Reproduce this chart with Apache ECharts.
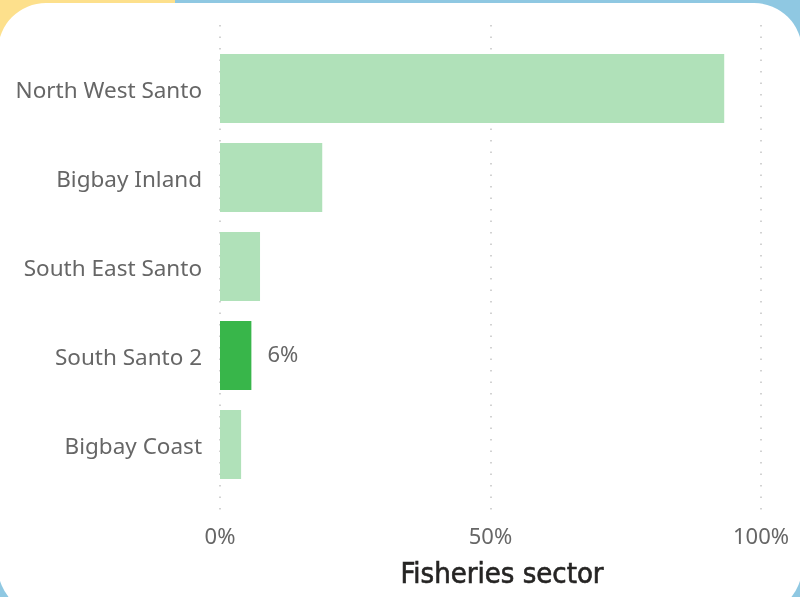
<!DOCTYPE html>
<html>
<head>
<meta charset="utf-8">
<script src="https://cdn.jsdelivr.net/npm/echarts@6/dist/echarts.min.js"></script>
<style>
    html, body { margin: 0; padding: 0; }
    body {
        width: 800px; height: 597px; overflow: hidden; position: relative;
        background: #8fc8e2;
    }
    .corner {
        position: absolute; left: 0; top: 0; width: 175px; height: 60px;
        background: #fde08c;
    }
    .card {
        position: absolute; left: -2px; top: 3px; width: 804px; height: 612px;
        background: #fff; border-radius: 48px;
    }
    #chart { position: absolute; left: 0; top: 0; width: 800px; height: 597px; }
</style>
</head>
<body>
<div class="corner"></div>
<div class="card"></div>
<div id="chart"></div>
<script>
    // 数据
    const categories = ['North West Santo', 'Bigbay Inland', 'South East Santo', 'South Santo 2', 'Bigbay Coast'];
    const shares = [93.2, 18.9, 7.4, 5.8, 3.9];
    const highlightName = 'South Santo 2';
    const xTicks = [0, 50, 100];

    const lightGreen = '#b0e1b9';
    const darkGreen = '#38b64a';
    const labelFont = 'Noto Sans';

    const chart = echarts.init(document.getElementById('chart'));

    // 柱状图数据
    const barData = shares.map((v, i) => {
        const hot = categories[i] === highlightName;
        return {
            value: v,
            itemStyle: { color: hot ? darkGreen : lightGreen },
            label: { show: hot }
        };
    });

    chart.setOption({
        backgroundColor: 'transparent',
        animation: false,
        title: {
            text: 'Fisheries sector',
            left: 497, top: 556,
            textAlign: 'center',
            textStyle: {
                fontFamily: 'DejaVu Sans Condensed', fontWeight: 'normal', fontSize: 29, color: '#252423',
                textBorderColor: '#252423', textBorderWidth: 0.6
            }
        },
        grid: [
            { left: 220, right: 39, top: 25, bottom: 82 },
            { left: 220, right: 39, top: 44, height: 445 }
        ],
        xAxis: [
            {
                gridIndex: 0, type: 'value', min: 0, max: 100, interval: 50,
                axisLine: { show: false }, axisTick: { show: false },
                axisLabel: {
                    margin: 12, fontSize: 22, color: '#666666', fontFamily: labelFont,
                    formatter: v => (xTicks.includes(v) ? v + '%' : '')
                },
                splitLine: { show: true, lineStyle: { color: '#c4c4c4', width: 1.5, type: [1.5, 10] } }
            },
            {
                gridIndex: 1, type: 'value', min: 0, max: 100, show: false
            }
        ],
        yAxis: [
            { gridIndex: 0, type: 'value', show: false },
            {
                gridIndex: 1, type: 'category', inverse: true, data: categories,
                axisLine: { show: false }, axisTick: { show: false },
                axisLabel: {
                    margin: 18,
                    formatter: v => '{a|' + v + '}',
                    rich: { a: { fontSize: 22.5, color: '#666666', fontFamily: labelFont, padding: [6, 0, 0, 0] } }
                }
            }
        ],
        series: [
            {
                type: 'bar', xAxisIndex: 1, yAxisIndex: 1,
                barCategoryGap: '22.5%',
                data: barData,
                label: {
                    position: 'right', distance: 16, fontSize: 22, color: '#666666', fontFamily: labelFont,
                    formatter: p => Math.round(p.value) + '%'
                }
            }
        ]
    });
</script>
</body>
</html>
